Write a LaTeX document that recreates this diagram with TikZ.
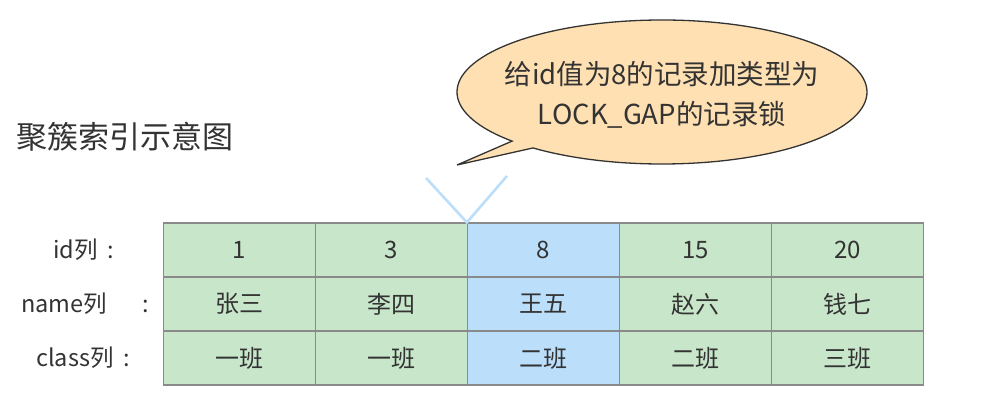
\documentclass[tikz,border=0pt]{standalone}
\usepackage{fontspec}
\setmainfont{Noto Sans CJK SC}
\usetikzlibrary{calc}
\definecolor{txt}{HTML}{333333}
\definecolor{cellgreen}{HTML}{C8E6C9}
\definecolor{cellblue}{HTML}{BBDEFB}
\definecolor{cellborder}{HTML}{8A8A8A}
\definecolor{bubblefill}{HTML}{FFE0B2}
\definecolor{bubbleline}{HTML}{333333}
\definecolor{vblue}{HTML}{BBDEFB}
\begin{document}
\begin{tikzpicture}[x=1pt,y=1pt,
  cell/.style={draw=cellborder, line width=1.2pt, minimum width=152pt, minimum height=54pt,
    inner sep=0pt, text=txt, font=\fontsize{24}{28}\selectfont},
  gcell/.style={cell, fill=cellgreen},
  bcell/.style={cell, fill=cellblue},
  rowlabel/.style={text=txt, font=\fontsize{23.5}{28}\selectfont, inner sep=0pt, anchor=west},
  vmark/.style={draw=vblue, line width=2.6pt}
]
\useasboundingbox (0,0) rectangle (989,407);

% title
\node[text=txt, font=\fontsize{31}{36}\selectfont, inner sep=0pt, anchor=west] (title) at (16,270) {聚簇索引示意图};

% speech bubble
\coordinate (bc) at (662,315);
\filldraw[fill=bubblefill, draw=bubbleline, line width=1.3pt, line join=miter]
  ($(bc)+(231:205 and 72)$) arc[start angle=231, end angle=583, x radius=205, y radius=72]
  -- (457,242) -- cycle;
\node[text=txt, font=\fontsize{27.5}{40}\selectfont, align=center, inner sep=0pt] (btext) at (662,312)
  {给id值为8的记录加类型为\\LOCK\_GAP的记录锁};

% row labels
\node[rowlabel] (lid) at (53,157) {id列\hspace{10pt}:};
\node[rowlabel] (lname) at (21,103) {name列\hspace{35pt}:};
\node[rowlabel] (lclass) at (36,49) {class列\hspace{10pt}:};

% cells row 1
\node[gcell] (c11) at (239.5,157) {1};
\node[gcell] (c12) at (391.5,157) {3};
\node[bcell] (c13) at (543.5,157) {8};
\node[gcell] (c14) at (695.5,157) {15};
\node[gcell] (c15) at (847.5,157) {20};
% row 2
\node[gcell] (c21) at (239.5,103) {张三};
\node[gcell] (c22) at (391.5,103) {李四};
\node[bcell] (c23) at (543.5,103) {王五};
\node[gcell] (c24) at (695.5,103) {赵六};
\node[gcell] (c25) at (847.5,103) {钱七};
% row 3
\node[gcell] (c31) at (239.5,49) {一班};
\node[gcell] (c32) at (391.5,49) {一班};
\node[bcell] (c33) at (543.5,49) {二班};
\node[gcell] (c34) at (695.5,49) {二班};
\node[gcell] (c35) at (847.5,49) {三班};

% V marker
\coordinate (vl) at (426,229);
\coordinate (vr) at (507,231);
\draw[vmark] (vl) -- (c13.north west) -- (vr);
\end{tikzpicture}
\end{document}
